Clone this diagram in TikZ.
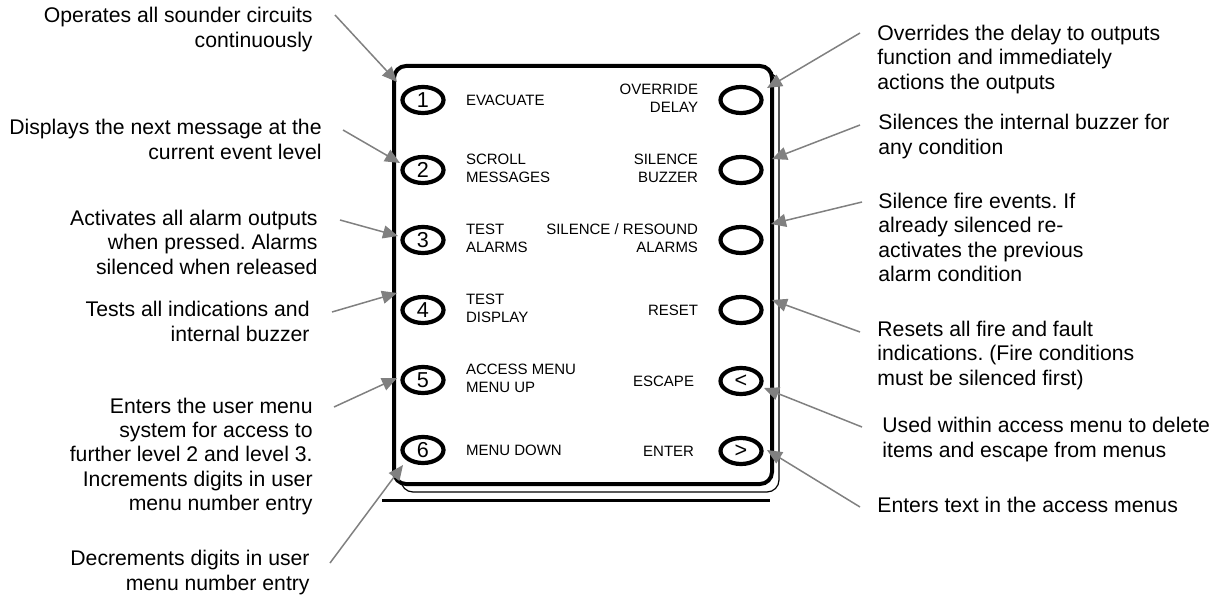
\documentclass[tikz,border=0pt]{standalone}
\usepackage{fontspec}
\setmainfont{Liberation Sans}
\usetikzlibrary{arrows.meta}
\usetikzlibrary{calc}
\usetikzlibrary{positioning}
\usetikzlibrary{shapes.geometric}
\frenchspacing

\begin{document}
\begin{tikzpicture}[x=0.5pt,y=-0.5pt,>={Triangle[length=7.5pt,width=6.5pt]}, node distance=10pt]
\tikzstyle{button} = [ellipse, draw, line width=2.1pt, minimum width=20.5pt, minimum height=13pt, inner sep=0pt, font=\fontsize{10.8}{12}\selectfont]
\tikzstyle{keyleft} = [inner sep=0pt, anchor=west, font=\fontsize{7.5}{8.6}\selectfont]
\tikzstyle{keyright} = [inner sep=0pt, anchor=east, font=\fontsize{7.5}{8.6}\selectfont]
\tikzstyle{lnote} = [inner sep=0pt, anchor=east, font=\fontsize{10.6}{12.2}\selectfont]
\tikzstyle{rnote} = [inner sep=0pt, anchor=west, font=\fontsize{10.6}{12.2}\selectfont]
\tikzstyle{pointer} = [draw=gray, line width=0.75pt, ->]

\useasboundingbox (0,0) rectangle (1220,599);

% panel
\draw[line width=0.6pt, rounded corners=6pt] (401,73) rectangle (779,492);
\draw[line width=2pt, fill=white, rounded corners=6pt] (394,66) rectangle (772,484);
\draw[line width=1.5pt] (382,500) -- (770,500);

% buttons
\node[button] (BONE) at (423,100) {1};
\node[button] (BTWO) at (423,170) {2};
\node[button] (BTHREE) at (423,240) {3};
\node[button] (BFOUR) at (423,310) {4};
\node[button] (BFIVE) at (423,380) {5};
\node[button] (BSIX) at (423,450) {6};

\node[button] (BOVERRIDE) at (741,100) {};
\node[button] (BBUZZER) at (741,170) {};
\node[button] (BRESOUND) at (741,240) {};
\node[button] (BRESET) at (741,310) {};
\node[button] (BESCAPE) at (741,381) {<};
\node[button] (BENTER) at (741,451) {>};

% key texts
\node[keyleft] (EVACUATE) [right=of BONE] {EVACUATE};
\node[keyleft] (SCROLL) [right=of BTWO]
   {
      \begin{tabular}{@{}l@{}}
         SCROLL\\
         MESSAGES
      \end{tabular}
   };
\node[keyleft] (TESTALARMS) [right=of BTHREE]
   {
      \begin{tabular}{@{}l@{}}
         TEST\\
         ALARMS
      \end{tabular}
   };
\node[keyleft] (TESTDISPLAY) [right=of BFOUR]
   {
      \begin{tabular}{@{}l@{}}
         TEST\\
         DISPLAY
      \end{tabular}
   };
\node[keyleft] (ACCESS) [right=of BFIVE]
   {
      \begin{tabular}{@{}l@{}}
         ACCESS MENU\\
         MENU UP
      \end{tabular}
   };
\node[keyleft] (MENUDOWN) [right=of BSIX] {MENU DOWN};

\node[keyright] (OVERRIDE) [left=of BOVERRIDE]
   {
      \begin{tabular}{@{}r@{}}
         OVERRIDE\\
         DELAY
      \end{tabular}
   };
\node[keyright] (SILBUZZER) [left=of BBUZZER]
   {
      \begin{tabular}{@{}r@{}}
         SILENCE\\
         BUZZER
      \end{tabular}
   };
\node[keyright] (RESOUND) [left=of BRESOUND]
   {
      \begin{tabular}{@{}r@{}}
         SILENCE / RESOUND\\
         ALARMS
      \end{tabular}
   };
\node[keyright] (RESET) [left=of BRESET] {RESET};
\node[keyright] (ESCAPE) [left=12pt of BESCAPE] {ESCAPE};
\node[keyright] (ENTER) [left=12pt of BENTER] {ENTER};

% notes on the left
\node[lnote] (NOTEEVAC) at (313,30)
   {
      \begin{tabular}{@{}r@{}}
         Operates all sounder circuits\\
         continuously
      \end{tabular}
   };
\node[lnote] (NOTESCROLL) at (322,142)
   {
      \begin{tabular}{@{}r@{}}
         Displays the next message at the\\
         current event level
      \end{tabular}
   };
\node[lnote] (NOTETESTAL) at (318,245)
   {
      \begin{tabular}{@{}r@{}}
         Activates all alarm outputs\\
         when pressed. Alarms\\
         silenced when released
      \end{tabular}
   };
\node[lnote] (NOTETESTDI) at (310,324)
   {
      \begin{tabular}{@{}r@{}}
         Tests all indications and\\
         internal buzzer
      \end{tabular}
   };
\node[lnote] (NOTEACCESS) at (313,457)
   {
      \begin{tabular}{@{}r@{}}
         Enters the user menu\\
         system for access to\\
         further level 2 and level 3.\\
         Increments digits in user\\
         menu number entry
      \end{tabular}
   };
\node[lnote] (NOTEDOWN) at (310,573)
   {
      \begin{tabular}{@{}r@{}}
         Decrements digits in user\\
         menu number entry
      \end{tabular}
   };

% notes on the right
\node[rnote] (NOTEOVER) at (877,60)
   {
      \begin{tabular}{@{}l@{}}
         Overrides the delay to outputs\\
         function and immediately\\
         actions the outputs
      \end{tabular}
   };
\node[rnote] (NOTEBUZZ) at (878,137)
   {
      \begin{tabular}{@{}l@{}}
         Silences the internal buzzer for\\
         any condition
      \end{tabular}
   };
\node[rnote] (NOTERESOUND) at (878,240)
   {
      \begin{tabular}{@{}l@{}}
         Silence fire events. If\\
         already silenced re-\\
         activates the previous\\
         alarm condition
      \end{tabular}
   };
\node[rnote] (NOTERESET) at (877,356)
   {
      \begin{tabular}{@{}l@{}}
         Resets all fire and fault\\
         indications. (Fire conditions\\
         must be silenced first)
      \end{tabular}
   };
\node[rnote] (NOTEESC) at (882,440)
   {
      \begin{tabular}{@{}l@{}}
         Used within access menu to delete\\
         items and escape from menus
      \end{tabular}
   };
\node[rnote] (NOTEENTER) at (877,505) {Enters text in the access menus};

% arrow tips on the panel
\coordinate (TIPEVAC) at (397,82);
\coordinate (TIPSCROLL) at (400,163);
\coordinate (TIPTESTAL) at (398,236);
\coordinate (TIPTESTDI) at (397,293);
\coordinate (TIPACCESS) at (397,378);
\coordinate (TIPDOWN) at (403,465);
\coordinate (TIPOVER) at (767,88);
\coordinate (TIPBUZZ) at (772,159);
\coordinate (TIPRESOUND) at (771,224);
\coordinate (TIPRESET) at (772,300);
\coordinate (TIPESC) at (764,388);
\coordinate (TIPENTER) at (767,450);

\path[pointer] ($(NOTEEVAC.east)+(22,-15)$) -- (TIPEVAC);
\path[pointer] ($(NOTESCROLL.east)+(21,-12)$) -- (TIPSCROLL);
\path[pointer] ($(NOTETESTAL.east)+(22,-25)$) -- (TIPTESTAL);
\path[pointer] ($(NOTETESTDI.east)+(22,-12)$) -- (TIPTESTDI);
\path[pointer] ($(NOTEACCESS.east)+(21,-50)$) -- (TIPACCESS);
\path[pointer] ($(NOTEDOWN.east)+(20,-10)$) -- (TIPDOWN);

\path[pointer] ($(NOTEOVER.west)+(-17,-27)$) -- (TIPOVER);
\path[pointer] ($(NOTEBUZZ.west)+(-18,-12)$) -- (TIPBUZZ);
\path[pointer] ($(NOTERESOUND.west)+(-16,-38)$) -- (TIPRESOUND);
\path[pointer] ($(NOTERESET.west)+(-17,-24)$) -- (TIPRESET);
\path[pointer] ($(NOTEESC.west)+(-20,-13)$) -- (TIPESC);
\path[pointer] ($(NOTEENTER.west)+(-17,2)$) -- (TIPENTER);
\end{tikzpicture}
\end{document}
